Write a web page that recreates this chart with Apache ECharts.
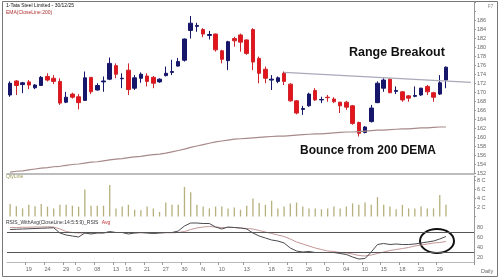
<!DOCTYPE html>
<html><head><meta charset="utf-8">
<script src="https://cdn.jsdelivr.net/npm/echarts@6/dist/echarts.min.js"></script>
<style>html,body{margin:0;padding:0;background:#fff}#c{width:500px;height:280px}</style>
</head><body><div id="c"></div>
<script>
// ---- data ----
const opens  = [169.4,172.5,171.7,172.3,171.0,171.5,173.5,173.1,172.4,167.8,169.6,169.0,168.2,173.3,170.5,172.3,172.9,175.9,173.0,174.9,170.9,173.1,173.6,173.3,172.3,173.7,174.4,175.8,177.1,183.7,184.6,183.9,182.6,182.9,179.2,177.0,181.9,182.7,181.6,183.9,177.5,175.1,172.7,172.4,174.2,171.8,168.1,166.2,167.0,170.4,168.3,168.9,168.5,167.8,167.8,167.0,163.3,161.1,163.5,167.7,170.9,172.9,170.2,170.1,169.2,169.1,169.4,171.3,169.9,169.6,172.7];
const closes = [172.0,171.5,172.1,171.6,171.6,173.3,172.7,172.4,167.6,168.9,168.9,167.7,173.2,170.1,171.5,172.5,176.4,174.0,173.1,170.6,173.2,174.0,172.4,172.0,172.9,174.2,174.6,176.8,181.8,185.3,184.8,182.9,182.8,179.4,177.3,181.2,181.4,181.1,178.6,176.7,174.2,173.1,172.9,173.2,172.4,168.1,165.4,166.4,169.6,168.3,168.4,168.8,167.9,167.0,166.7,163.1,160.9,162.3,166.5,172.0,172.7,169.9,170.4,168.3,168.7,169.3,170.9,170.1,168.9,172.1,175.56];
const lows   = [169.0,169.4,169.8,170.7,170.7,171.5,172.4,171.8,167.2,167.6,168.6,166.2,168.2,169.6,170.4,170.1,172.7,173.1,170.9,169.4,170.5,172.1,171.3,170.9,172.1,173.5,173.8,175.7,176.8,181.9,183.4,182.2,181.7,179.0,176.4,174.9,180.1,179.0,178.3,174.9,172.0,172.0,170.5,172.0,171.6,167.9,165.1,165.0,166.8,168.1,167.6,167.9,167.6,165.4,166.1,162.8,160.2,160.9,163.3,167.6,170.1,169.8,169.6,167.9,167.9,168.9,169.2,169.4,167.9,169.4,170.9];
const highs  = [172.4,172.7,172.3,172.7,171.8,173.6,174.2,173.8,173.1,170.1,169.9,169.6,174.6,173.3,172.0,173.5,177.7,176.4,174.2,176.4,173.8,174.4,174.2,173.6,173.1,175.7,177.2,177.6,181.9,186.9,185.4,184.2,183.6,183.0,179.4,181.4,182.3,183.0,181.7,184.2,177.9,175.7,173.8,173.5,174.6,172.0,168.3,167.0,169.9,170.9,169.0,169.4,168.9,167.9,168.1,167.2,163.5,162.5,167.2,172.4,173.1,173.1,171.3,170.3,169.4,171.3,171.0,171.6,170.1,173.8,175.7];
const volumes = [2.8,2.3,1.8,2.6,2.3,2.8,2.2,1.8,2.6,2.6,2.4,2.2,6.0,2.4,2.4,2.4,7.0,1.8,2.2,2.6,1.5,1.4,2.2,1.8,1.0,3.1,2.6,2.6,6.6,5.4,2.6,2.2,1.8,2.2,2.2,1.8,2.0,1.5,2.4,4.0,3.0,2.6,3.5,1.8,2.2,2.9,3.1,2.2,1.8,1.8,1.6,1.8,2.2,1.8,2.2,2.9,2.6,3.1,2.6,4.3,2.6,2.2,1.6,2.6,1.8,1.8,2.2,1.8,1.8,4.8,2.6];
const dema200 = [152.3,152.5,152.6,152.8,153.0,153.2,153.3,153.5,153.6,153.8,154.0,154.1,154.3,154.5,154.6,154.8,155.0,155.2,155.3,155.5,155.7,155.8,156.0,156.2,156.3,156.5,156.8,157.1,157.4,157.8,158.1,158.4,158.7,159.0,159.2,159.4,159.6,159.7,159.8,159.9,160.0,160.1,160.2,160.3,160.3,160.4,160.5,160.6,160.7,160.8,160.8,160.9,161.0,161.1,161.2,161.2,161.3,161.4,161.5,161.6,161.6,161.7,161.8,161.9,161.9,162.0,162.1,162.1,162.2,162.3,162.3];
const rsis    = [75,75.5,76,76.5,77,77.5,78,78.5,68,64,62,60,68,66,68,68,71,69,69,66,68,69,68,67,68,69,69,72,82,88,88,87,87,80,76,80,79,78,76,68,62,58,54,52,48,38,32,30,31,29,29,29,29,27,25,20,16,17,30,45,47,45,46,45,45,46,48,50,52,56,61];
const rsisAvg = [79,79,79.5,79.5,80,80,80.5,80,76,71,69,68,68,68,68.5,68.5,69,69,69,68.5,68.5,68.5,68.5,68.5,68.5,68.5,68.5,69,71,75,78,80,81,80,79,79,79,78,77,76,73,70,67,64,61,56,50,46,42,38,35,32,31,29,28,26,23,22,24,27,30,33,35,37,39,42,44,46,48,49,51];
const tickIdx  = [3,6,9,11,14,17,19,22,25,28,31,34,38,42,45,48,51,54,57,60,63,66,69];
const tickText = ["19","24","29","O","08","13","16","21","27","30","N","10","13","18","21","26","D","04","10","15","18","23","29"];
const trendStart = [44, 174.4];
const trendEnd   = [74, 172.2];
const lastClose = 175.56;
const slotCount = 75;

// ---- build ----
const cats = Array.from({length: slotCount}, (_, i) => String(i));
const candle = opens.map((o, i) => [o, closes[i], lows[i], highs[i]]);
const F = 'Liberation Sans, Arial, sans-serif';
const tickShow = (i) => tickIdx.indexOf(i) >= 0;

const chart = echarts.init(document.getElementById('c'), null, {renderer: 'canvas'});
const gridBase = {left: 7, right: 26};
const baseX = {type: 'category', data: cats, boundaryGap: true, axisTick: {show: false}, axisLabel: {show: false}, splitLine: {show: false}};
chart.setOption({
  animation: false,
  backgroundColor: '#fff',
  grid: [
    Object.assign({top: 2, height: 171.5}, gridBase),
    Object.assign({top: 176, height: 40.5}, gridBase),
    Object.assign({top: 217, height: 45}, gridBase)
  ],
  xAxis: [
    Object.assign({gridIndex: 0, axisLine: {lineStyle: {color: '#a8a8a8', width: 1.5}}}, baseX),
    Object.assign({gridIndex: 1, axisLine: {show: false}}, baseX),
    Object.assign({}, baseX, {gridIndex: 2,
      axisLine: {lineStyle: {color: '#b8b8b8', width: 1}},
      axisTick: {show: true, interval: tickShow, length: 3, lineStyle: {color: '#999'}},
      axisLabel: {show: true, interval: tickShow, fontSize: 5.5, color: '#666', fontFamily: F, margin: 4,
        formatter: (v, i) => tickText[tickIdx.indexOf(Number(v))] || ''}})
  ],
  yAxis: [
    {gridIndex: 0, type: 'value', position: 'right', min: 152, max: 190, interval: 2, scale: true,
     splitLine: {show: false}, axisLine: {show: true, lineStyle: {color: '#999'}},
     axisTick: {show: true, length: 2, lineStyle: {color: '#999'}},
     axisLabel: {fontSize: 5.5, color: '#666', fontFamily: F, margin: 3, formatter: v => v > 186 ? '' : String(v)}},
    {gridIndex: 1, type: 'value', position: 'right', min: 0, max: 9, interval: 2,
     splitLine: {show: false}, axisLine: {show: true, lineStyle: {color: '#999'}},
     axisTick: {show: true, length: 2, lineStyle: {color: '#999'}},
     axisLabel: {fontSize: 5.5, color: '#666', fontFamily: F, margin: 3, formatter: v => (v > 0 && v <= 8) ? v + ' C' : ''}},
    {gridIndex: 2, type: 'value', position: 'right', min: 10, max: 100, interval: 10,
     splitLine: {show: false}, axisLine: {show: true, lineStyle: {color: '#999'}},
     axisTick: {show: false},
     axisLabel: {fontSize: 5.5, color: '#666', fontFamily: F, margin: 3, formatter: v => (v % 20 === 0 && v >= 20 && v <= 80) ? String(v) : ''}}
  ],
  series: [
    {type: 'candlestick', xAxisIndex: 0, yAxisIndex: 0, data: candle, barWidth: 4,
     itemStyle: {color: '#16166a', color0: '#e3141c', borderColor: '#16166a', borderColor0: '#d0242a', borderWidth: 1},
     markLine: {silent: true, symbol: 'none', animation: false,
       data: [
         [{coord: [String(trendStart[0]), trendStart[1]], lineStyle: {color: '#a9a9ba', width: 1.3, type: 'solid'}, label: {show: false}},
          {coord: [String(trendEnd[0]), trendEnd[1]]}],
         {yAxis: lastClose, lineStyle: {opacity: 0},
          label: {show: true, position: 'end', distance: 1, formatter: String(lastClose), color: '#fff', backgroundColor: '#151515',
                  fontSize: 5.5, fontFamily: F, padding: [1, 1.5]}}
       ]}},
    {type: 'line', xAxisIndex: 0, yAxisIndex: 0, data: dema200, symbol: 'none', lineStyle: {color: '#a88a8a', width: 1.2}},
    {type: 'bar', xAxisIndex: 1, yAxisIndex: 1, data: volumes, barWidth: 1.3, itemStyle: {color: '#b5b07c'}},
    {type: 'line', xAxisIndex: 2, yAxisIndex: 2, data: rsisAvg, symbol: 'none', lineStyle: {color: '#c49696', width: 1}},
    {type: 'line', xAxisIndex: 2, yAxisIndex: 2, data: rsis, symbol: 'none', lineStyle: {color: '#4a4a50', width: 1},
     markLine: {silent: true, symbol: 'none', label: {show: false},
       lineStyle: {color: '#555', width: 1, type: 'solid'}, data: [{yAxis: 70}, {yAxis: 30}]}}
  ],
  graphic: [
    {type: 'rect', shape: {x: 2.5, y: 1.5, width: 495, height: 275}, style: {fill: 'none', stroke: '#777', lineWidth: 1}, silent: true},
    {type: 'text', left: 6, top: 3, style: {text: '1-Tata Steel Limited - 30/12/25', fontSize: 5, fontFamily: F, fill: '#111'}},
    {type: 'text', left: 6, top: 10, style: {text: 'EMA(CloseLine:200)', fontSize: 5, fontFamily: F, fill: '#b03030'}},
    {type: 'text', left: 488, top: 4, style: {text: 'F7', fontSize: 4.5, fontFamily: F, fill: '#777'}},
    {type: 'text', left: 6, top: 174, style: {text: 'QtyLine', fontSize: 5, fontFamily: F, fill: '#9a9a50'}},
    {type: 'text', left: 6, top: 217, style: {rich: {a: {fontSize: 5, fontFamily: F, fill: '#333'}, b: {fontSize: 5, fontFamily: F, fill: '#c03030'}},
       text: '{a|RSIS_WithAvg(CloseLine:14:5:5:9)_RSIS} {b|Avg}'}},
    {type: 'text', left: 481, top: 268, style: {text: 'Daily', fontSize: 5.5, fontFamily: F, fill: '#666'}},
    {type: 'text', left: 349, top: 46, style: {text: 'Range Breakout', fontSize: 12.5, fontWeight: 'bold', fontFamily: F, fill: '#111'}},
    {type: 'text', left: 300, top: 145, style: {text: 'Bounce from 200 DEMA', fontSize: 12, fontWeight: 'bold', fontFamily: F, fill: '#111'}},
    {type: 'ellipse', shape: {cx: 437, cy: 241, rx: 17, ry: 12}, style: {fill: 'none', stroke: '#111', lineWidth: 2}, silent: true}
  ]
});
</script></body></html>
